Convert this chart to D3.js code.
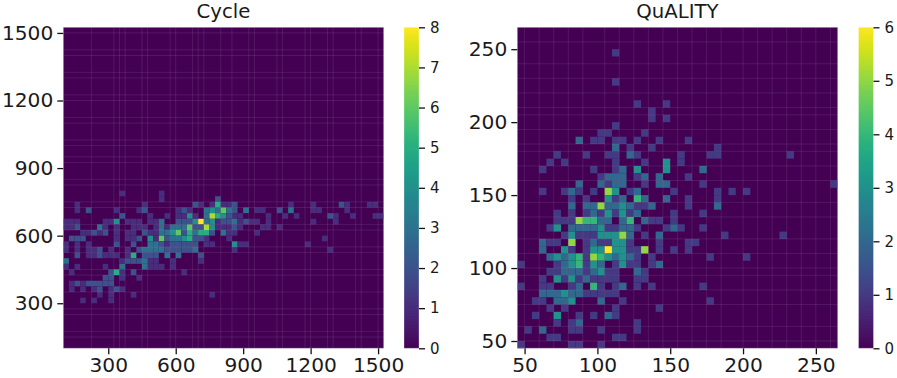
<!DOCTYPE html>
<html>
<head>
<meta charset="utf-8">
<script src="https://cdn.jsdelivr.net/npm/d3@7"></script>
<style>
html, body { margin: 0; padding: 0; background: #fff; }
text { font-family: "DejaVu Sans"; }
</style>
</head>
<body>
<div id="canvas"></div>
<script>
// DATA ========================================================================

// Each row: [row counted from the top, [column, count], [column, count], ...]
var CYCLE_COUNTS = [
    [29, [10,1], [17,1]],
    [30, [17,1], [27,2]],
    [31, [2,1], [14,1], [23,2], [24,1], [26,1], [27,5], [28,1], [29,1], [30,2], [40,1], [44,1], [49,2], [50,1], [54,1], [55,1]],
    [32, [2,1], [4,2], [9,1], [13,1], [14,2], [20,1], [21,2], [22,1], [25,3], [26,4], [27,3], [28,6], [29,3], [30,2], [32,3], [34,1], [35,1], [38,2], [40,3], [44,1], [45,1], [50,1]],
    [33, [10,2], [15,1], [18,1], [20,1], [21,1], [22,4], [23,1], [25,3], [26,7], [27,5], [28,4], [29,2], [30,1], [31,1], [36,1], [39,1], [41,1], [47,2], [48,1], [51,1], [55,1], [56,1]],
    [34, [0,1], [1,1], [2,1], [7,1], [8,1], [9,4], [11,1], [12,1], [13,1], [15,1], [16,1], [17,3], [20,2], [21,2], [22,2], [23,4], [24,8], [25,3], [26,4], [27,1], [28,2], [29,2], [30,3], [31,1], [32,2], [33,1], [34,1], [36,1], [44,1], [48,1]],
    [35, [0,1], [1,1], [2,2], [6,3], [7,1], [9,1], [12,1], [13,1], [14,1], [16,1], [17,3], [18,1], [19,3], [20,3], [21,3], [22,6], [23,2], [24,2], [25,7], [26,4], [27,1], [28,1], [29,1], [30,2], [31,1], [35,1], [36,1], [38,1]],
    [36, [3,1], [4,1], [5,2], [6,1], [7,2], [9,1], [11,1], [12,1], [14,2], [15,1], [16,1], [17,3], [18,3], [19,4], [20,6], [21,2], [22,5], [23,3], [24,5], [25,5], [26,2], [28,3], [29,1], [30,1], [34,1]],
    [37, [1,2], [2,2], [3,2], [9,1], [11,1], [12,1], [13,2], [15,4], [16,1], [17,6], [18,2], [19,3], [20,3], [21,4], [22,5], [23,2], [24,2], [25,1], [29,1], [46,1]],
    [38, [0,1], [2,1], [4,1], [9,2], [12,2], [15,3], [16,3], [17,2], [18,1], [19,2], [20,2], [21,2], [22,2], [23,2], [25,1], [26,1], [30,4], [31,1], [32,1], [43,1]],
    [39, [0,1], [2,1], [4,1], [5,1], [6,2], [8,1], [11,1], [13,2], [14,3], [15,3], [16,3], [17,3], [18,2], [19,2], [20,2], [21,2], [22,2], [23,3], [30,1], [47,1]],
    [40, [2,2], [4,1], [5,1], [6,2], [7,1], [8,1], [9,1], [11,1], [12,5], [14,2], [15,2], [16,2], [18,3], [20,3], [24,2]],
    [41, [0,3], [10,1], [11,2], [12,2], [13,2], [14,3], [15,1], [16,1], [19,1], [24,1]],
    [42, [0,1], [2,1], [7,1], [10,3], [14,3], [15,1], [16,1], [17,1], [19,1]],
    [43, [1,1], [8,2], [9,5], [10,1], [12,2], [21,1]],
    [44, [7,2], [8,2], [10,1], [13,1]],
    [45, [1,1], [2,2], [3,1], [4,2], [5,2], [6,2], [7,2], [8,2]],
    [46, [1,1], [3,1], [5,1], [6,2], [8,1], [9,2], [10,1]],
    [47, [6,1], [8,1], [12,1], [26,1]],
    [48, [3,1], [5,1], [8,1]]
]

var QUALITY_COUNTS = [
    [3, [13,1]],
    [7, [13,1]],
    [10, [16,1], [20,1]],
    [11, [18,1]],
    [12, [18,1], [20,1]],
    [13, [13,1]],
    [14, [11,1], [12,1], [17,1]],
    [15, [8,2], [10,1], [11,1], [13,1], [14,1], [16,1], [19,1], [23,1]],
    [16, [13,2], [15,1], [18,1], [27,1]],
    [17, [5,1], [9,1], [12,1], [13,1], [15,2], [16,1], [22,1], [26,1], [27,1], [37,1]],
    [18, [4,1], [6,1], [13,1], [17,1], [20,3], [22,1]],
    [19, [3,1], [10,1], [13,1], [14,2], [16,3], [20,3], [25,2]],
    [20, [11,1], [12,2], [13,2], [14,2], [16,1], [17,2], [19,2], [23,1]],
    [21, [8,2], [11,2], [12,1], [13,2], [14,2], [17,1], [19,2], [20,2], [25,1], [43,1]],
    [22, [3,1], [6,1], [7,2], [8,1], [10,1], [12,5], [13,3], [15,1], [16,2], [21,1], [27,1], [29,1], [31,1]],
    [23, [7,1], [9,1], [12,3], [13,1], [14,2], [16,4], [17,2], [20,2], [23,1], [27,1]],
    [24, [7,2], [9,2], [10,2], [11,5], [12,2], [13,2], [14,3], [15,2], [16,1], [17,1], [18,2], [23,1], [27,2]],
    [25, [5,1], [7,1], [9,1], [10,2], [11,1], [12,3], [13,1], [14,3], [15,1], [16,2], [21,1], [25,1]],
    [26, [5,1], [6,1], [7,1], [8,5], [9,4], [10,4], [11,2], [12,2], [14,2], [15,4], [17,2], [18,1], [19,1], [21,1]],
    [27, [4,1], [5,3], [7,2], [8,2], [9,2], [10,2], [11,3], [12,1], [13,1], [14,2], [15,2], [16,1], [20,1], [21,2], [22,1], [25,1]],
    [28, [6,1], [7,3], [8,1], [9,1], [10,1], [11,3], [12,3], [13,3], [14,5], [15,2], [17,1], [19,2], [28,1], [36,1]],
    [29, [3,2], [4,1], [5,1], [7,5], [9,1], [10,2], [11,1], [12,1], [13,3], [14,3], [15,1], [19,1], [23,1], [24,1]],
    [30, [3,2], [6,3], [7,1], [9,1], [10,3], [11,3], [12,6], [13,3], [14,3], [15,1], [16,1], [17,5], [19,1], [21,1], [23,1]],
    [31, [4,2], [5,3], [6,2], [7,3], [8,4], [9,1], [10,5], [11,4], [12,3], [13,2], [14,3], [15,2], [16,1], [18,1], [26,1], [31,1]],
    [32, [0,1], [5,1], [6,2], [7,3], [8,4], [9,1], [10,3], [11,2], [13,1], [14,3], [15,1], [16,1], [18,1], [19,2]],
    [33, [4,1], [5,1], [6,2], [7,2], [8,2], [9,1], [10,2], [11,3], [12,1], [13,1], [16,2], [17,1]],
    [34, [3,1], [5,3], [6,1], [7,3], [8,1], [9,2], [10,1], [11,1], [12,1], [13,1], [16,1], [17,1]],
    [35, [0,1], [3,1], [4,1], [7,1], [8,2], [10,4], [11,1], [13,1], [14,2], [16,1], [18,1], [25,1]],
    [36, [3,2], [4,2], [5,2], [6,3], [7,2], [8,2], [9,1], [10,1], [11,1], [12,1], [13,1]],
    [37, [2,1], [3,1], [5,2], [6,2], [7,3], [11,2], [14,1], [26,1]],
    [38, [4,1], [6,1], [13,1], [19,1]],
    [39, [2,1], [5,3], [8,1], [10,1], [12,2], [13,1]],
    [40, [5,1], [7,1], [8,2], [16,1]],
    [41, [1,1], [3,2], [7,1], [8,1], [11,1], [16,1]],
    [42, [4,1], [5,1], [13,1], [14,1]],
    [43, [0,1], [7,1], [8,1], [11,1]]
]

// Bin edges that show up as faint lighter seams in the mesh.
var CYCLE_SEAMS_X = [5, 9, 10, 11, 14, 15, 19, 20, 23, 24, 25, 28, 30, 33, 34, 38, 39, 43, 44, 47, 48, 52, 53, 56]
var CYCLE_SEAMS_Y = [1, 4, 5, 8, 9, 12, 13, 16, 17, 20, 21, 23, 24, 27, 28, 31, 32, 35, 36, 39, 40, 43, 44, 47, 50, 51, 54, 55]
var QUALITY_SEAMS_X = [1, 3, 5, 7, 9, 12, 14, 16, 18, 20, 22, 24, 26, 28, 31, 33, 35, 37, 39, 41, 43]
var QUALITY_SEAMS_Y = [2, 5, 7, 9, 11, 12, 14, 16, 17, 19, 21, 24, 26, 29, 31, 33, 34, 36, 38, 41, 43]

var CYCLE_TICKS = [300, 600, 900, 1200, 1500]
var QUALITY_TICKS = [50, 100, 150, 200, 250]
var CYCLE_BAR_TICKS = [0, 1, 2, 3, 4, 5, 6, 7, 8]
var QUALITY_BAR_TICKS = [0, 1, 2, 3, 4, 5, 6]

// GLOBAL VARIABLES ============================================================

var SIZE = { "width": 897, "height": 378 }
var TICK_FONT = 20.2
var BAR_FONT = 15
var TITLE_FONT = 19.7
var TEXT_COLOR = "#1a1a1a"

var PANELS = [
    {
        "title": "Cycle",
        "counts": CYCLE_COUNTS,
        "seamsX": CYCLE_SEAMS_X,
        "seamsY": CYCLE_SEAMS_Y,
        "ticks": CYCLE_TICKS,
        "barTicks": CYCLE_BAR_TICKS,
        "start": 100,
        "step": 25,
        "bins": 57,
        "left": 63.3,
        "barLeft": 404
    },
    {
        "title": "QuALITY",
        "counts": QUALITY_COUNTS,
        "seamsX": QUALITY_SEAMS_X,
        "seamsY": QUALITY_SEAMS_Y,
        "ticks": QUALITY_TICKS,
        "barTicks": QUALITY_BAR_TICKS,
        "start": 45,
        "step": 5,
        "bins": 44,
        "left": 517.3,
        "barLeft": 858.5
    }
]

// SVG GENERATOR ===============================================================

var SVG = d3.select("#canvas").append("svg")
    .attr("width", SIZE.width)
    .attr("height", SIZE.height)
    .style("display", "block")

var defs = SVG.append("defs")

function translate(x, y) {
    return "translate(" + x + "," + y + ")"
}

function styleAxis(g, size) {
    g.select(".domain").remove()
    g.selectAll(".tick line").attr("stroke", "#111").attr("stroke-width", 1.3)
    g.selectAll(".tick text").attr("fill", TEXT_COLOR).attr("font-size", size).attr("font-family", "DejaVu Sans")
}

function drawPanel(P, i) {
    let top = 27.3
    let W = 320.4
    let H = 321
    let end = P.start + P.step*P.bins

    let x = d3.scaleLinear().domain([P.start, end]).range([0, W])
    let y = d3.scaleLinear().domain([P.start, end]).range([H, 0])
    let color = d3.scaleSequential(d3.interpolateViridis).domain(d3.extent(P.barTicks))

    let G = SVG.append("g").attr("transform", translate(P.left, top))

    G.append("rect")
        .attr("width", W)
        .attr("height", H)
        .attr("fill", color(0))

    // Flatten rows into single cells.
    let cells = []
    P.counts.forEach(function(r) {
        r.slice(1).forEach(function(c) {
            cells.push({ "col": c[0], "row": r[0], "n": c[1] })
        })
    })

    G.append("g").selectAll("rect")
        .data(cells).enter()
        .append("rect")
            .attr("x", d => x(P.start + d.col*P.step))
            .attr("y", d => y(end - d.row*P.step))
            .attr("width", x(P.step) - x(0))
            .attr("height", y(0) - y(P.step))
            .attr("fill", d => color(d.n))

    G.append("g").selectAll("line")
        .data(P.seamsX).enter()
        .append("line")
            .attr("x1", d => x(P.start + d*P.step))
            .attr("x2", d => x(P.start + d*P.step))
            .attr("y1", 0)
            .attr("y2", H)
            .attr("stroke", "#fff")
            .attr("stroke-opacity", 0.09)

    G.append("g").selectAll("line")
        .data(P.seamsY).enter()
        .append("line")
            .attr("x1", 0)
            .attr("x2", W)
            .attr("y1", d => y(end - d*P.step))
            .attr("y2", d => y(end - d*P.step))
            .attr("stroke", "#fff")
            .attr("stroke-opacity", 0.09)

    // Pale edge of the mesh.
    G.append("rect")
        .attr("width", W)
        .attr("height", H)
        .attr("fill", "none")
        .attr("stroke", "#fff")
        .attr("stroke-opacity", 0.3)

    G.append("g")
        .attr("transform", translate(0, H))
        .call(d3.axisBottom(x).tickValues(P.ticks).tickSize(6).tickPadding(3).tickFormat(d3.format("d")))
        .call(g => styleAxis(g, TICK_FONT))

    G.append("g")
        .call(d3.axisLeft(y).tickValues(P.ticks).tickSize(6).tickPadding(4).tickFormat(d3.format("d")))
        .call(g => styleAxis(g, TICK_FONT))

    G.append("text")
        .text(P.title)
        .attr("x", W/2)
        .attr("y", -9.5)
        .attr("text-anchor", "middle")
        .attr("fill", TEXT_COLOR)
        .attr("font-size", TITLE_FONT)

    // Colorbar.
    let gradient = defs.append("linearGradient")
        .attr("id", "bar" + i)
        .attr("x1", 0).attr("x2", 0)
        .attr("y1", 1).attr("y2", 0)

    gradient.selectAll("stop")
        .data(d3.range(0, 1.001, 0.02)).enter()
        .append("stop")
            .attr("offset", d => d)
            .attr("stop-color", d => d3.interpolateViridis(d))

    let bar = SVG.append("g").attr("transform", translate(P.barLeft, top))
    let z = d3.scaleLinear().domain(d3.extent(P.barTicks)).range([H, 0])

    bar.append("rect")
        .attr("width", 15)
        .attr("height", H)
        .attr("fill", "url(#bar" + i + ")")
        .attr("stroke", "#fff")
        .attr("stroke-opacity", 0.3)

    bar.append("g")
        .attr("transform", translate(15, 0))
        .call(d3.axisRight(z).tickValues(P.barTicks).tickSize(6).tickPadding(5).tickFormat(d3.format("d")))
        .call(g => styleAxis(g, BAR_FONT))
}

PANELS.forEach(drawPanel)
</script>
</body>
</html>
